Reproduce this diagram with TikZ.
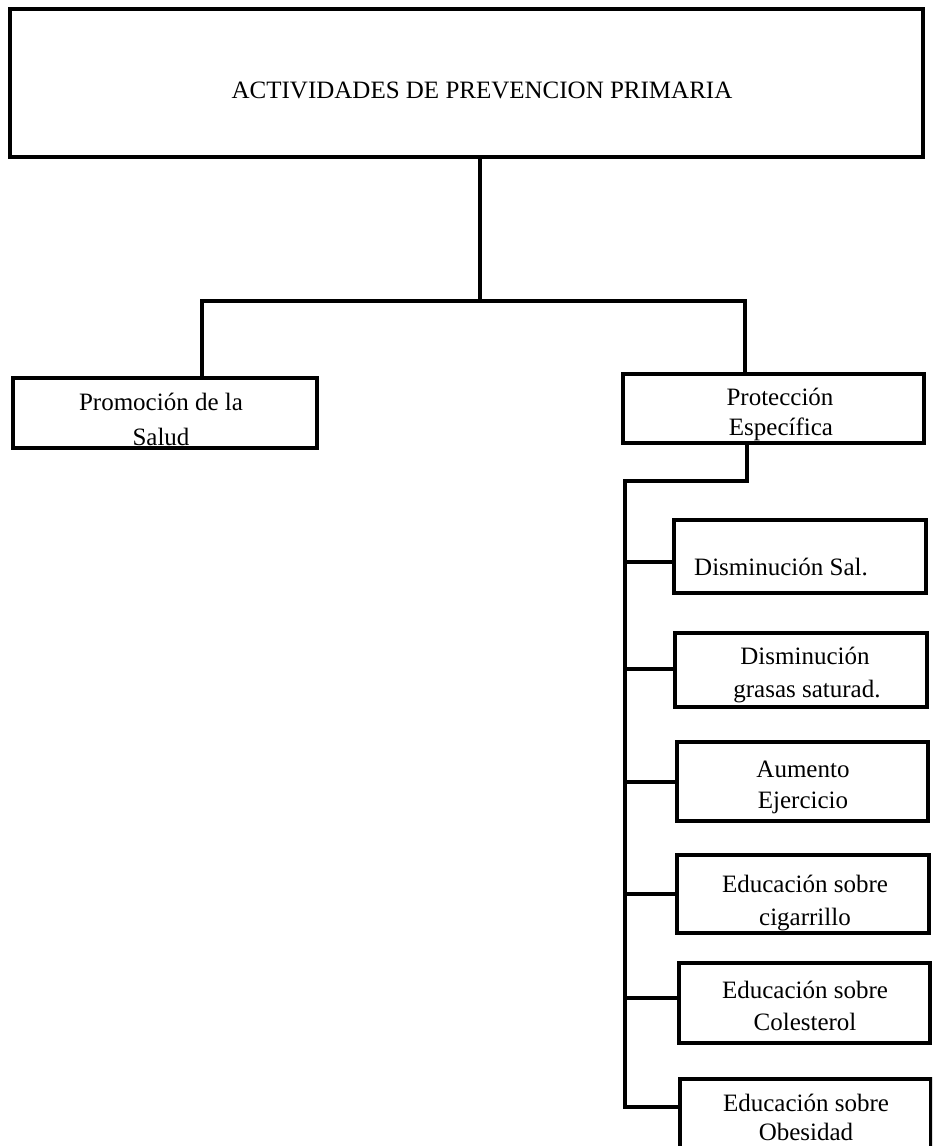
\documentclass[tikz,border=0pt]{standalone}
\usepackage{fontspec}
\setmainfont{Liberation Serif}
\begin{document}
\begin{tikzpicture}[x=1pt,y=-1pt,
  box/.style={draw, line width=4pt, inner sep=0pt, outer sep=0pt, anchor=north west},
  txt/.style={anchor=base, inner sep=0pt, outer sep=0pt, font=\fontsize{25}{30}\selectfont},
  conn/.style={line width=4pt}]
\useasboundingbox (0,0) rectangle (932,1146);
\clip (0,0) rectangle (932,1146);
\fill[white] (0,0) rectangle (932,1146);
% boxes
\node[box, minimum width=913pt, minimum height=148pt] (top) at (10,9) {};
\node[box, minimum width=304pt, minimum height=70pt] (promo) at (13,378) {};
\node[box, minimum width=301pt, minimum height=69pt] (prot) at (623,374) {};
\node[box, minimum width=252pt, minimum height=73pt] (b1) at (674,520) {};
\node[box, minimum width=252pt, minimum height=74pt] (b2) at (675,633) {};
\node[box, minimum width=251pt, minimum height=79pt] (b3) at (677,742) {};
\node[box, minimum width=252pt, minimum height=78pt] (b4) at (677,855) {};
\node[box, minimum width=251pt, minimum height=80pt] (b5) at (679,963) {};
\node[box, minimum width=251pt, minimum height=95pt] (b6) at (680,1079) {};
% texts
\node[txt] (ttop) at (482,98) {ACTIVIDADES DE PREVENCION PRIMARIA};
\node[txt] (tpromoa) at (161,410) {Promoción de la};
\node[txt] (tpromob) at (161,445) {Salud};
\node[txt] (tprota) at (780,405) {Protección};
\node[txt] (tprotb) at (781,435) {Específica};
\node[txt] (tb1) at (781,575) {Disminución Sal.};
\node[txt] (tb2a) at (805,664) {Disminución};
\node[txt] (tb2b) at (807,697) {grasas saturad.};
\node[txt] (tb3a) at (803,777) {Aumento};
\node[txt] (tb3b) at (803,808) {Ejercicio};
\node[txt] (tb4a) at (805,892) {Educación sobre};
\node[txt] (tb4b) at (805,925) {cigarrillo};
\node[txt] (tb5a) at (805,998) {Educación sobre};
\node[txt] (tb5b) at (805,1030) {Colesterol};
\node[txt] (tb6a) at (806,1111) {Educación sobre};
\node[txt] (tb6b) at (806,1140) {Obesidad};
% connector junctions
\coordinate (j0) at (480,301);
\coordinate (jl) at (202,301);
\coordinate (jr) at (745,301);
\coordinate (t0) at (747,481);
\coordinate (t1) at (625,481);
\coordinate (c1) at (625,562);
\coordinate (c2) at (625,669);
\coordinate (c3) at (625,782);
\coordinate (c4) at (625,894);
\coordinate (c5) at (625,998);
\coordinate (c6) at (625,1107);
% connectors
\draw[conn] (top.south -| j0) -- (j0);
\draw[conn] (jl |- promo.north) -- (jl) -- (jr) -- (jr |- prot.north);
\draw[conn] (prot.south -| t0) -- (t0) -- (t1) -- (c6) -- (c6 -| b6.west);
\draw[conn] (c1) -- (c1 -| b1.west);
\draw[conn] (c2) -- (c2 -| b2.west);
\draw[conn] (c3) -- (c3 -| b3.west);
\draw[conn] (c4) -- (c4 -| b4.west);
\draw[conn] (c5) -- (c5 -| b5.west);
\end{tikzpicture}
\end{document}
